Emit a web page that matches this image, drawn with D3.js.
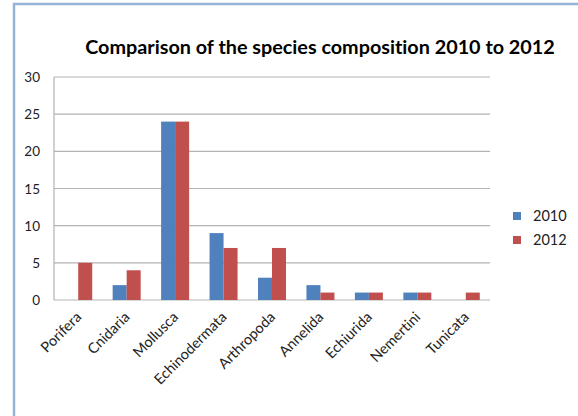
<!DOCTYPE html>
<html>
<head>
<meta charset="utf-8">
<script src="https://cdn.jsdelivr.net/npm/d3@7"></script>
<style>
  html, body { margin: 0; padding: 0; background: #fff; }
  svg { display: block; font-family: Lato, "Open Sans", sans-serif; font-variant-ligatures: none; }
</style>
</head>
<body>
<svg id="chart" width="578" height="416"></svg>
<script>
const categories = ["Porifera", "Cnidaria", "Mollusca", "Echinodermata", "Arthropoda", "Annelida", "Echiurida", "Nemertini", "Tunicata"];
const seriesNames = ["2010", "2012"];
const values2010 = [0, 2, 24, 9, 3, 2, 1, 1, 0];
const values2012 = [5, 4, 24, 7, 7, 1, 1, 1, 1];
const yTicks = [0, 5, 10, 15, 20, 25, 30];
const colors = ["#4F81BD", "#C0504D"];

const svg = d3.select("#chart");

// outer frame (left and top edges visible)
svg.append("path")
  .attr("d", "M14,420 L14,4 L582,4")
  .attr("fill", "none")
  .attr("stroke", "#95B3D7")
  .attr("stroke-width", 2.5);

const plot = { left: 54, right: 490, top: 77, bottom: 300 };

const x = d3.scaleBand().domain(categories).range([plot.left, plot.right]).paddingInner(0).paddingOuter(0);
const xs = d3.scaleBand().domain(seriesNames).range([0, x.bandwidth()]).paddingInner(0).paddingOuter(0.73);
const y = d3.scaleLinear().domain([0, 30]).range([plot.bottom, plot.top]);

// gridlines
svg.append("g").selectAll("line").data(yTicks).join("line")
  .attr("x1", plot.left).attr("x2", plot.right)
  .attr("y1", d => y(d)).attr("y2", d => y(d))
  .attr("stroke", "#B3B3B3").attr("stroke-width", 1.2);

// y axis line
svg.append("line")
  .attr("x1", plot.left).attr("x2", plot.left)
  .attr("y1", plot.top).attr("y2", plot.bottom)
  .attr("stroke", "#B3B3B3").attr("stroke-width", 1.2);

// y tick labels
svg.append("g").selectAll("text").data(yTicks).join("text")
  .attr("x", 40).attr("y", d => y(d) + 5)
  .attr("text-anchor", "end")
  .attr("font-size", 13.5)
  .attr("fill", "#222")
  .text(d => d);

// bars
const seriesData = [values2010, values2012];
const groups = svg.append("g").selectAll("g").data(seriesNames).join("g")
  .attr("fill", (d, i) => colors[i]);
groups.selectAll("rect")
  .data((s, i) => categories.map((c, j) => ({ c, s, v: seriesData[i][j] })))
  .join("rect")
  .attr("x", d => x(d.c) + xs(d.s))
  .attr("width", xs.bandwidth())
  .attr("y", d => y(d.v))
  .attr("height", d => y(0) - y(d.v));

// category labels, rotated
svg.append("g").selectAll("text").data(categories).join("text")
  .attr("transform", d => `translate(${x(d) + x.bandwidth() / 2 + 4},${plot.bottom + 18}) rotate(-45)`)
  .attr("text-anchor", "end")
  .attr("font-size", 14.5)
  .attr("fill", "#222")
  .text(d => d);

// title
svg.append("text")
  .attr("x", 320).attr("y", 54)
  .attr("text-anchor", "middle")
  .attr("font-size", 19.8)
  .attr("font-weight", "bold")
  .attr("fill", "#000")
  .text("Comparison of the species composition 2010 to 2012");

// legend
const legend = svg.append("g").selectAll("g").data(seriesNames).join("g")
  .attr("transform", (d, i) => `translate(513,${212 + i * 24})`);
legend.append("rect").attr("width", 8).attr("height", 8).attr("fill", (d, i) => colors[i]);
legend.append("text").attr("x", 20).attr("y", 9).attr("font-size", 14.5).attr("fill", "#222").text(d => d);
</script>
</body>
</html>
